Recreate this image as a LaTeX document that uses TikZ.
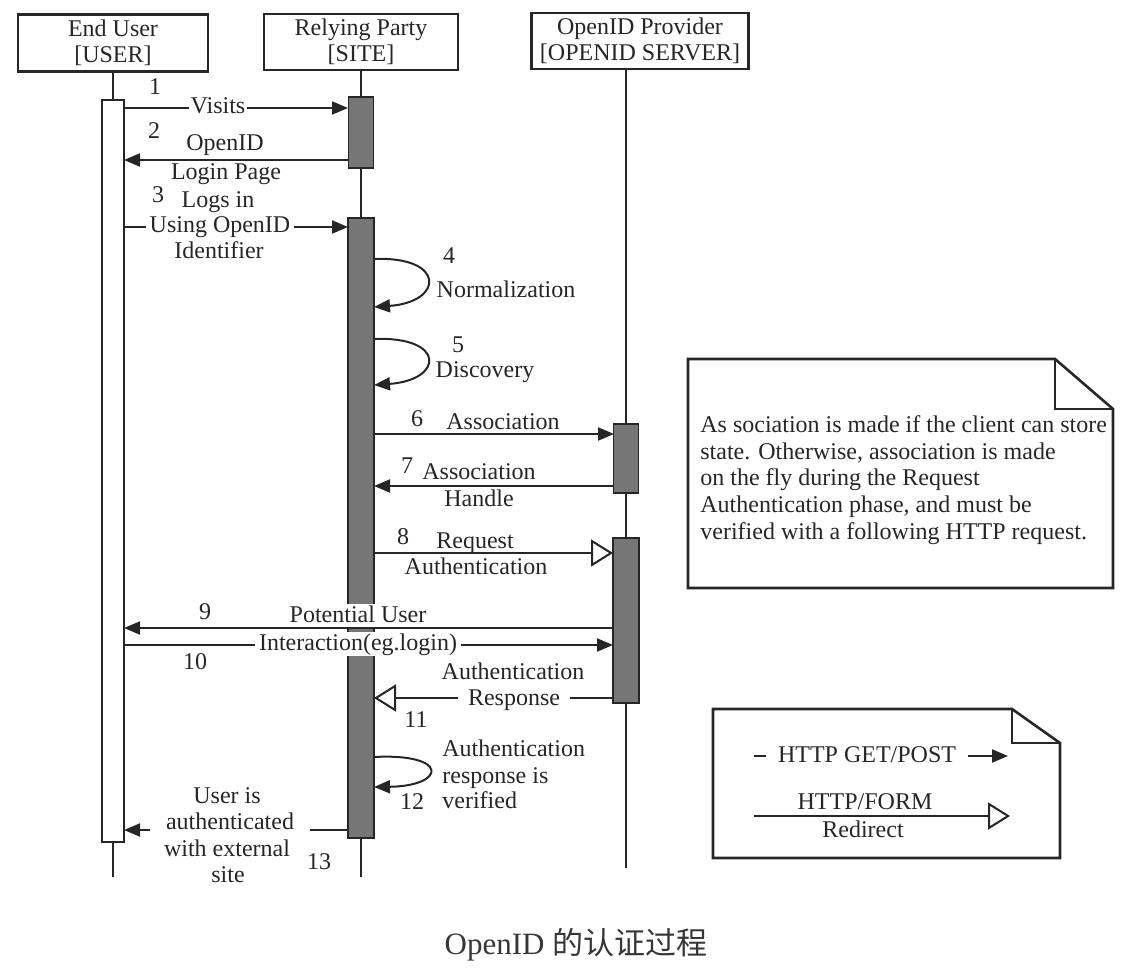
\documentclass[tikz,border=0pt]{standalone}
\usepackage{fontspec}
\setmainfont{Liberation Serif}
\newfontfamily\cjkfont{Noto Sans CJK SC}
\usetikzlibrary{arrows.meta}
\definecolor{ink}{RGB}{38,38,38}
\definecolor{barfill}{RGB}{118,118,118}
\definecolor{capink}{RGB}{55,55,55}
\begin{document}
\begin{tikzpicture}[x=0.5pt,y=-0.5pt,
  every node/.style={text=ink},
  actor/.style={draw=ink,line width=1.3pt,align=center,inner sep=0pt,font=\fontsize{12}{13}\selectfont},
  lbl/.style={inner sep=0.5pt,font=\fontsize{12}{13}\selectfont,text height=8.5pt,text depth=2.5pt},
  wlbl/.style={lbl,fill=white},
  life/.style={draw=ink,line width=1pt},
  gbar/.style={draw=ink,line width=0.8pt,fill=barfill,inner sep=0pt},
  wbar/.style={draw=ink,line width=1pt,fill=white,inner sep=0pt},
  msg/.style={draw=ink,line width=1pt,-{Triangle[length=8pt,width=6.5pt]}},
  redir/.style={draw=ink,line width=1pt,-{Triangle[open,length=11pt,width=13.5pt,line width=1pt,fill=white]}},
  note/.style={draw=ink,line width=1.3pt,line join=miter},
  notetext/.style={inner sep=0pt,align=left,font=\fontsize{12}{13.35}\selectfont},
]
\useasboundingbox (0,0) rectangle (1134,978);

% ---------- actors ----------
\node[actor,minimum width=95pt,minimum height=28.5pt] (user) at (113,43) {End User\\{[USER]}};
\node[actor,minimum width=97pt,minimum height=28pt] (site) at (361,42) {Relying Party\\{[SITE]}};
\node[actor,minimum width=108.5pt,minimum height=28pt] (op) at (640,41) {OpenID Provider\\{[OPENID SERVER]}};

% ---------- activation bars ----------
\node[wbar,minimum width=11pt,minimum height=371pt] (ubar) at (113,471) {};
\node[gbar,minimum width=12.5pt,minimum height=35.5pt] (sbar1) at (361,132.5) {};
\node[gbar,minimum width=13pt,minimum height=310pt] (sbar2) at (361,528) {};
\node[gbar,minimum width=12.5pt,minimum height=34.5pt] (obar1) at (626,458.5) {};
\node[gbar,minimum width=13pt,minimum height=82.5pt] (obar2) at (626,620.5) {};

% ---------- lifelines ----------
\coordinate (uend) at (113,877);
\coordinate (send) at (361,877);
\coordinate (otop) at (626,69);
\coordinate (oend) at (626,868);
\draw[life] (user.south) -- (ubar.north);
\draw[life] (ubar.south) -- (uend);
\draw[life] (site.south) -- (sbar1.north);
\draw[life] (sbar1.south) -- (sbar2.north);
\draw[life] (sbar2.south) -- (send);
\draw[life] (otop) -- (obar1.north);
\draw[life] (obar1.south) -- (obar2.north);
\draw[life] (obar2.south) -- (oend);

% ---------- message end points ----------
\coordinate (m1a) at (124,108);  \coordinate (m1b) at (348,108);
\coordinate (m2a) at (348,160);  \coordinate (m2b) at (124,160);
\coordinate (m3a) at (124,227);  \coordinate (m3b) at (348,227);
\coordinate (l4a) at (374,259);  \coordinate (l4b) at (374,307);
\coordinate (l5a) at (374,339);  \coordinate (l5b) at (374,385);
\coordinate (m6a) at (374,434);  \coordinate (m6b) at (614,434);
\coordinate (m7a) at (614,486);  \coordinate (m7b) at (374,486);
\coordinate (m8a) at (374,553);  \coordinate (m8b) at (613,553);
\coordinate (m9a) at (613,628);  \coordinate (m9b) at (124,628);
\coordinate (m10a) at (124,645); \coordinate (m10b) at (613,645);
\coordinate (m11a) at (613,698); \coordinate (m11b) at (374,698);
\coordinate (l12a) at (374,757); \coordinate (l12b) at (374,787);
\coordinate (m13a) at (348,830); \coordinate (m13b) at (124,830);

% ---------- messages ----------
\draw[msg] (m1a) -- (m1b);
\draw[msg] (m2a) -- (m2b);
\draw[msg] (m3a) -- (m3b);
\draw[msg] (l4a) .. controls (446,256) and (444,302) .. (l4b);
\draw[msg] (l5a) .. controls (446,336) and (444,380) .. (l5b);
\draw[msg] (m6a) -- (m6b);
\draw[msg] (m7a) -- (m7b);
\draw[redir] (m8a) -- (m8b);
\draw[msg] (m10a) -- (m10b);
\draw[redir] (m11a) -- (m11b);
\draw[msg] (l12a) .. controls (450,753) and (446,786) .. (l12b);
\draw[msg] (m13a) -- (m13b);

% ---------- labels ----------
\node[lbl] (n1) at (155,89) {1};
\node[wlbl,inner xsep=1pt] (t1) at (218,108) {Visits};
\node[lbl] (n2) at (154,133) {2};
\node[lbl] (t2a) at (225,145) {OpenID};
\node[lbl] (t2b) at (226,174) {Login Page};
\node[lbl] (n3) at (158,197) {3};
\node[lbl] (t3a) at (218,202) {Logs in};
\node[wlbl,inner xsep=2pt] (t3b) at (220,227) {Using OpenID};
\node[lbl] (t3c) at (219,253) {Identifier};
\node[lbl] (n4) at (449,258) {4};
\node[lbl] (t4) at (506,292) {Normalization};
\node[lbl] (n5) at (458,346) {5};
\node[lbl] (t5) at (485,372) {Discovery};
\node[lbl] (n6) at (417,420) {6};
\node[lbl] (t6) at (503,423) {Association};
\node[lbl] (n7) at (407,467) {7};
\node[lbl] (t7a) at (479,473) {Association};
\node[lbl] (t7b) at (479,500) {Handle};
\node[lbl] (n8) at (403,538) {8};
\node[lbl] (t8a) at (475,542) {Request};
\node[lbl] (t8b) at (476,568) {Authentication};
\node[lbl] (n9) at (205,613) {9};
\node[wlbl] (t9) at (358,616) {Potential User};
\node[wlbl,inner xsep=2pt] (t10) at (358,644) {Interaction(eg.login)};
\node[lbl] (n10) at (195,663) {10};
\node[lbl] (t11a) at (513,673) {Authentication};
\node[wlbl,inner xsep=5pt] (t11b) at (514,699) {Response};
\node[lbl] (n11) at (416,721) {11};
\node[lbl,anchor=west] (t12a) at (441,750) {Authentication};
\node[lbl,anchor=west] (t12b) at (441,777) {response is};
\node[lbl,anchor=west] (t12c) at (441,802) {verified};
\node[lbl] (n12) at (412,803) {12};
\node[lbl] (t13a) at (227,797) {User is};
\node[wlbl,inner xsep=8pt] (t13b) at (230,823) {authenticated};
\node[lbl] (t13c) at (227,850) {with external};
\node[lbl] (t13d) at (228,876) {site};
\node[lbl] (n13) at (319,863) {13};

% message 9 drawn over its label background
\draw[msg] (m9a) -- (m9b);

% ---------- note ----------
\draw[note] (688,359) -- (1055,359) -- (1113,409) -- (1113,588) -- (688,588) -- cycle;
\draw[note] (1055,359) -- (1055,409) -- (1113,409);
\node[notetext,anchor=north west] (notetxt) at (700,415)
  {As sociation is made if the client can store\\
   state. Otherwise, association is made\\
   on the fly during the Request\\
   Authentication phase, and must be\\
   verified with a following HTTP request.};

% ---------- legend ----------
\draw[note] (713,709) -- (1012,709) -- (1060,743) -- (1060,858) -- (713,858) -- cycle;
\draw[note] (1012,709) -- (1012,743) -- (1060,743);
\coordinate (lgA) at (754,756); \coordinate (lgB) at (1008,756);
\coordinate (lgC) at (754,816); \coordinate (lgD) at (1010,816);
\draw[msg] (lgA) -- (lgB);
\node[wlbl,inner xsep=6pt] (lg1) at (867,756) {HTTP GET/POST};
\draw[redir] (lgC) -- (lgD);
\node[lbl] (lg2a) at (865,803) {HTTP/FORM};
\node[lbl] (lg2b) at (863,831) {Redirect};

% ---------- caption ----------
\node[inner sep=0pt,text=capink,font=\fontsize{15.5}{17}\selectfont] (caption) at (576,945)
  {OpenID {\cjkfont 的认证过程}};
\end{tikzpicture}
\end{document}
